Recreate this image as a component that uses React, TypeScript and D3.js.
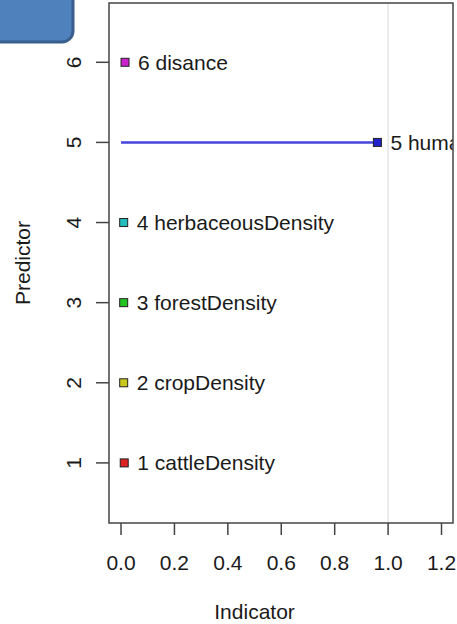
import React, { useEffect, useRef } from 'react';
import * as d3 from 'd3';

const predictors = [1, 2, 3, 4, 5, 6];
const labels = ['1 cattleDensity', '2 cropDensity', '3 forestDensity', '4 herbaceousDensity', '5 humanDensity', '6 disance'];
const indicator = [0.012, 0.01, 0.01, 0.01, 0.96, 0.015];
const colors = ['#dd2222', '#c8c81e', '#22c422', '#22bcbc', '#2222cc', '#cc22cc'];
const lineColors = ['#e04444', '#d0d040', '#44cc44', '#44c4c4', '#4444dd', '#d444d4'];
const xTicks = [0, 0.2, 0.4, 0.6, 0.8, 1.0, 1.2];

const W = 457;
const H = 624;
const FONT = 'Liberation Sans, Arial, sans-serif';
const FS = '21px';

const App: React.FC = () => {
  const svgRef = useRef<SVGSVGElement>(null);

  useEffect(() => {
    if (!svgRef.current) return;
    const svg = d3.select(svgRef.current);
    svg.selectAll('*').remove();

    const left = 109;
    const right = 453;
    const top = 3;
    const bottom = 523;

    const x = d3.scaleLinear().domain([-0.045, 1.243]).range([left, right]);
    const y = d3.scaleLinear().domain([0.25, 6.74]).range([bottom, top]);

    svg.append('defs')
      .append('clipPath')
      .attr('id', 'plotClip')
      .append('rect')
      .attr('x', left).attr('y', top)
      .attr('width', right - left).attr('height', bottom - top);

    svg.append('rect').attr('width', W).attr('height', H).attr('fill', '#ffffff');

    const plot = svg.append('g').attr('clip-path', 'url(#plotClip)');

    // reference line at 1
    plot
      .append('line')
      .attr('x1', x(1)).attr('x2', x(1))
      .attr('y1', top).attr('y2', bottom)
      .attr('stroke', '#e6e6e6')
      .attr('stroke-width', 1.5);

    // segments
    predictors.forEach((p, i) => {
      plot
        .append('line')
        .attr('x1', x(0)).attr('x2', x(indicator[i]))
        .attr('y1', y(p)).attr('y2', y(p))
        .attr('stroke', lineColors[i])
        .attr('stroke-width', 2.5);
    });

    // points
    predictors.forEach((p, i) => {
      plot
        .append('rect')
        .attr('x', x(indicator[i]) - 4)
        .attr('y', y(p) - 4)
        .attr('width', 8)
        .attr('height', 8)
        .attr('fill', colors[i])
        .attr('stroke', '#222')
        .attr('stroke-width', 1);

      plot
        .append('text')
        .attr('x', x(indicator[i]) + 13)
        .attr('y', y(p))
        .attr('dominant-baseline', 'central')
        .attr('font-family', FONT)
        .attr('font-size', FS)
        .attr('fill', '#1a1a1a')
        .text(labels[i]);
    });

    // box
    svg
      .append('rect')
      .attr('x', left).attr('y', top)
      .attr('width', right - left).attr('height', bottom - top)
      .attr('fill', 'none')
      .attr('stroke', '#444')
      .attr('stroke-width', 1.5);

    // x axis
    xTicks.forEach((t) => {
      svg
        .append('line')
        .attr('x1', x(t)).attr('x2', x(t))
        .attr('y1', bottom).attr('y2', bottom + 12)
        .attr('stroke', '#444')
        .attr('stroke-width', 1.5);
      svg
        .append('text')
        .attr('x', x(t))
        .attr('y', 562)
        .attr('text-anchor', 'middle')
        .attr('dominant-baseline', 'central')
        .attr('font-family', FONT)
        .attr('font-size', FS)
        .attr('fill', '#1a1a1a')
        .text(d3.format('.1f')(t));
    });

    svg
      .append('text')
      .attr('x', x(0.5))
      .attr('y', 611)
      .attr('text-anchor', 'middle')
      .attr('dominant-baseline', 'central')
      .attr('font-family', FONT)
      .attr('font-size', FS)
      .attr('fill', '#1a1a1a')
      .text('Indicator');

    // y axis
    predictors.forEach((p) => {
      svg
        .append('line')
        .attr('x1', 96).attr('x2', left)
        .attr('y1', y(p)).attr('y2', y(p))
        .attr('stroke', '#444')
        .attr('stroke-width', 1.5);
      svg
        .append('text')
        .attr('transform', `translate(73, ${y(p)}) rotate(-90)`)
        .attr('text-anchor', 'middle')
        .attr('dominant-baseline', 'central')
        .attr('font-family', FONT)
        .attr('font-size', FS)
        .attr('fill', '#1a1a1a')
        .text(String(p));
    });

    svg
      .append('text')
      .attr('transform', `translate(22, ${(top + bottom) / 2}) rotate(-90)`)
      .attr('text-anchor', 'middle')
      .attr('dominant-baseline', 'central')
      .attr('font-family', FONT)
      .attr('font-size', FS)
      .attr('fill', '#1a1a1a')
      .text('Predictor');

    // slide shape overlapping the corner
    svg
      .append('rect')
      .attr('x', -20).attr('y', -20)
      .attr('width', 93).attr('height', 62)
      .attr('rx', 11).attr('ry', 11)
      .attr('fill', '#4f81bd')
      .attr('stroke', '#3a5f8e')
      .attr('stroke-width', 3);
  }, []);

  return (
    <svg
      ref={svgRef}
      width={W}
      height={H}
      style={{ position: 'absolute', left: 0, top: 0 }}
    />
  );
};

export default App;
